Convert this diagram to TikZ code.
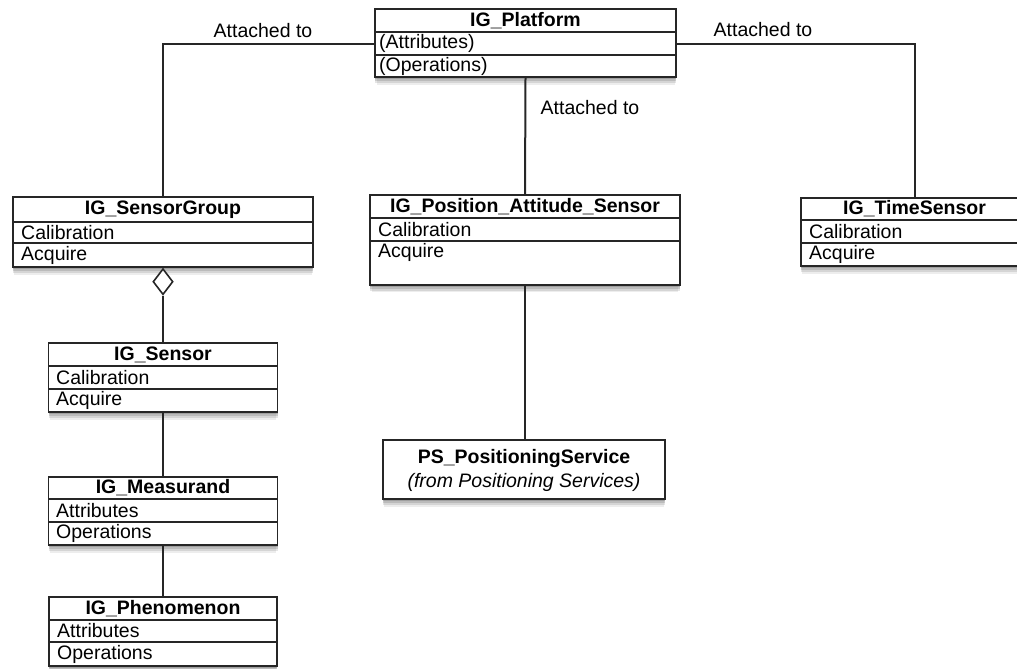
\documentclass[tikz,border=0pt]{standalone}
\usepackage{fontspec}
\setmainfont{Liberation Sans}
\usetikzlibrary{shadows,shapes.geometric}
\tikzset{
  umlbox/.style={draw=black!85, line width=1.8pt, fill=white, inner sep=0pt,
    general shadow={fill=black, opacity=0.15, shadow xshift=0pt, shadow yshift=-2pt},
    general shadow={fill=black, opacity=0.12, shadow xshift=0pt, shadow yshift=-4pt},
    general shadow={fill=black, opacity=0.10, shadow xshift=0pt, shadow yshift=-6pt},
    general shadow={fill=black, opacity=0.07, shadow xshift=0pt, shadow yshift=-8pt, shadow scale=0.99}},
  divider/.style={draw=black!85, line width=1.6pt},
  conn/.style={draw=black!85, line width=2pt},
  ttl/.style={font=\fontsize{19.5}{22}\selectfont\bfseries, inner sep=0pt},
  item/.style={font=\fontsize{19.5}{22}\selectfont, inner sep=0pt, anchor=west},
  lbl/.style={font=\fontsize{19.5}{22}\selectfont, inner sep=0pt},
  agg/.style={diamond, draw=black!85, line width=1.6pt, fill=white, inner sep=0pt,
    minimum width=20pt, minimum height=26pt, anchor=north}
}
\begin{document}
\begin{tikzpicture}[x=1pt,y=-1pt]
\useasboundingbox (0,0) rectangle (1017,669);
\clip (0,0) rectangle (1017,669);
\coordinate (pl) at (375,44);
\coordinate (pr) at (676,44);
% IG_Platform
\node[umlbox, minimum width=301pt, minimum height=68pt] (plat) at (525.5,43) {};
\draw[divider] (375,32) -- (676,32) (375,55) -- (676,55);
\node[ttl] (platT) at (525.5,20.5) {IG\_Platform};
\node[item] (platA) at (379,43.5) {(Attributes)};
\node[item] (platO) at (379,66) {(Operations)};
% IG_SensorGroup
\node[umlbox, minimum width=300pt, minimum height=70pt] (sg) at (163,232) {};
\draw[divider] (13,222) -- (313,222) (13,243) -- (313,243);
\node[ttl] (sgT) at (163,209.5) {IG\_SensorGroup};
\node[item] (sgC) at (21,232.5) {Calibration};
\node[item] (sgA) at (21,255) {Acquire};
% IG_Position_Attitude_Sensor
\node[umlbox, minimum width=310pt, minimum height=90pt] (pas) at (525,240) {};
\draw[divider] (370,218) -- (680,218) (370,241) -- (680,241);
\node[ttl] (pasT) at (525,206.5) {IG\_Position\_Attitude\_Sensor};
\node[item] (pasC) at (378,229.5) {Calibration};
\node[item] (pasA) at (378,252.5) {Acquire};
% IG_TimeSensor
\node[umlbox, minimum width=228pt, minimum height=68pt] (ts) at (915,232) {};
\draw[divider] (801,220) -- (1029,220) (801,243) -- (1029,243);
\node[ttl] (tsT) at (914.5,209) {IG\_TimeSensor};
\node[item] (tsC) at (809,231.5) {Calibration};
\node[item] (tsA) at (809,254.5) {Acquire};
% IG_Sensor
\node[umlbox, minimum width=229pt, minimum height=69pt] (sen) at (163,377.5) {};
\draw[divider] (48.5,366) -- (277.5,366) (48.5,389) -- (277.5,389);
\node[ttl] (senT) at (163,354.5) {IG\_Sensor};
\node[item] (senC) at (56,377.5) {Calibration};
\node[item] (senA) at (56,400.5) {Acquire};
% IG_Measurand
\node[umlbox, minimum width=229pt, minimum height=68pt] (mea) at (163,511) {};
\draw[divider] (48.5,499) -- (277.5,499) (48.5,522) -- (277.5,522);
\node[ttl] (meaT) at (163,488) {IG\_Measurand};
\node[item] (meaA) at (56,510.5) {Attributes};
\node[item] (meaO) at (56,533.5) {Operations};
% IG_Phenomenon
\node[umlbox, minimum width=228pt, minimum height=69pt] (phe) at (163,631.5) {};
\draw[divider] (49,620) -- (277,620) (49,642) -- (277,642);
\node[ttl] (pheT) at (163,608.5) {IG\_Phenomenon};
\node[item] (pheA) at (57,631) {Attributes};
\node[item] (pheO) at (57,654) {Operations};
% PS_PositioningService
\node[umlbox, minimum width=282pt, minimum height=59pt] (ps) at (524,469.5) {};
\node[ttl] (psT) at (524,458) {PS\_PositioningService};
\node[lbl, font=\fontsize{19.5}{22}\selectfont\itshape] (psS) at (524,482) {(from Positioning Services)};
% aggregation diamond
\node[agg] (dia) at (sg.south) {};
% connectors
\draw[conn] (pl) -| (sg.north);
\draw[conn] (pr) -| (ts.north);
\draw[conn] (plat.south) -- (pas.north);
\draw[conn] (pas.south) -- (pas.south |- ps.north);
\draw[conn] (dia.south) -- (sen.north);
\draw[conn] (sen.south) -- (mea.north);
\draw[conn] (mea.south) -- (phe.north);
% labels
\node[lbl] (l1) at (263,31) {Attached to};
\node[lbl] (l2) at (763,30) {Attached to};
\node[lbl] (l3) at (590,108) {Attached to};
\end{tikzpicture}
\end{document}
